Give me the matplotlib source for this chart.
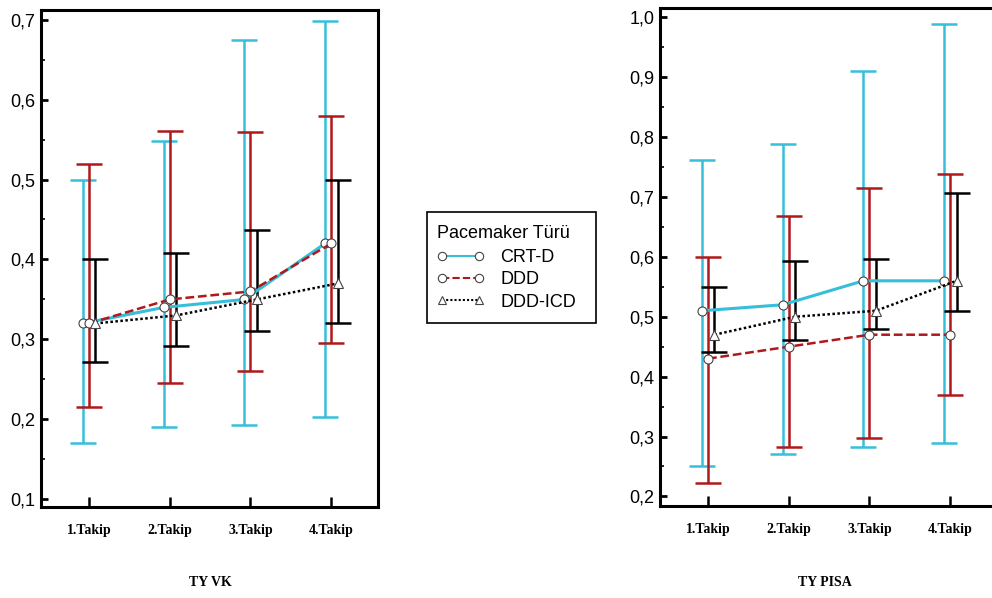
import numpy as np
import matplotlib
matplotlib.use("Agg")
import matplotlib.pyplot as plt
from matplotlib.ticker import MultipleLocator, FuncFormatter
from matplotlib.lines import Line2D
from matplotlib.patches import Rectangle

# follow-up visits
visits = ["1.Takip", "2.Takip", "3.Takip", "4.Takip"]
groups = ["CRT-D", "DDD", "DDD-ICD"]

# TY VK: means, lower and upper error bar ends
vk_mean = {
    "CRT-D": [0.32, 0.34, 0.35, 0.42],
    "DDD": [0.32, 0.35, 0.36, 0.42],
    "DDD-ICD": [0.32, 0.33, 0.35, 0.37],
}
vk_low = {
    "CRT-D": [0.171, 0.191, 0.193, 0.203],
    "DDD": [0.216, 0.246, 0.260, 0.296],
    "DDD-ICD": [0.272, 0.292, 0.310, 0.321],
}
vk_high = {
    "CRT-D": [0.499, 0.548, 0.674, 0.698],
    "DDD": [0.520, 0.561, 0.559, 0.579],
    "DDD-ICD": [0.400, 0.408, 0.437, 0.500],
}

# TY PISA
pisa_mean = {
    "CRT-D": [0.51, 0.52, 0.56, 0.56],
    "DDD": [0.43, 0.45, 0.47, 0.47],
    "DDD-ICD": [0.47, 0.50, 0.51, 0.56],
}
pisa_low = {
    "CRT-D": [0.250, 0.270, 0.282, 0.289],
    "DDD": [0.223, 0.283, 0.297, 0.369],
    "DDD-ICD": [0.441, 0.461, 0.479, 0.509],
}
pisa_high = {
    "CRT-D": [0.761, 0.789, 0.910, 0.988],
    "DDD": [0.600, 0.668, 0.715, 0.739],
    "DDD-ICD": [0.549, 0.593, 0.597, 0.706],
}

colors = {"CRT-D": "#36bedb", "DDD": "#b0191c", "DDD-ICD": "#000000"}
styles = {"CRT-D": "-", "DDD": (0, (3.5, 1.5)), "DDD-ICD": (0, (1, 1))}
markers = {"CRT-D": "o", "DDD": "o", "DDD-ICD": "^"}
offsets = {"CRT-D": -0.075, "DDD": 0.0, "DDD-ICD": 0.08}
line_w = {"CRT-D": 2.2, "DDD": 1.8, "DDD-ICD": 1.8}

fig = plt.figure(figsize=(9.92, 5.98), dpi=100)
ax1 = fig.add_axes([41 / 992, 91 / 598, 337 / 992, 497 / 598])
ax2 = fig.add_axes([660 / 992, 92 / 598, 337 / 992, 498 / 598])


def draw_panel(ax, mean, low, high, ylim):
    x = np.arange(1, len(visits) + 1)
    for g in groups:
        xs = x + offsets[g]
        m = np.array(mean[g])
        err = [m - np.array(low[g]), np.array(high[g]) - m]
        ax.errorbar(xs, m, yerr=err, fmt="none", ecolor=colors[g],
                    elinewidth=1.8, capsize=9.5, capthick=1.8, zorder=2)
    for g in groups:
        xs = x + offsets[g]
        ax.plot(xs, mean[g], linestyle=styles[g], color=colors[g],
                linewidth=line_w[g], marker=markers[g], markersize=6.5,
                markerfacecolor="white", markeredgecolor="#444444",
                markeredgewidth=0.8, zorder=3)
    ax.set_xlim(0.405, 4.58)
    ax.set_ylim(*ylim)
    ax.set_xticks(x)
    ax.set_xticklabels(visits, fontfamily="Liberation Serif",
                       fontweight="bold", fontsize=10)
    ax.yaxis.set_major_locator(MultipleLocator(0.1))
    ax.yaxis.set_minor_locator(MultipleLocator(0.05))
    ax.yaxis.set_major_formatter(FuncFormatter(lambda v, p: f"{v:.1f}".replace(".", ",")))
    for lab in ax.get_yticklabels():
        lab.set_fontfamily("Liberation Sans")
        lab.set_fontsize(13)
    ax.tick_params(axis="y", which="major", direction="in", length=5, width=2, pad=4)
    ax.tick_params(axis="y", which="minor", direction="in", length=3, width=1.2)
    ax.tick_params(axis="x", direction="in", length=7, width=1.8, pad=12)
    ax.tick_params(axis="x", which="minor", bottom=False)
    for sp in ax.spines.values():
        sp.set_linewidth(2.2)


draw_panel(ax1, vk_mean, vk_low, vk_high, (0.0904, 0.712))
draw_panel(ax2, pisa_mean, pisa_low, pisa_high, (0.184, 1.0155))

fig.text(210 / 992, 1 - 583 / 598, "TY VK", ha="center", va="center",
         fontfamily="Liberation Serif", fontweight="bold", fontsize=10)
fig.text(825 / 992, 1 - 583 / 598, "TY PISA", ha="center", va="center",
         fontfamily="Liberation Serif", fontweight="bold", fontsize=10)

# legend box drawn separately (wide right margin as in the original)
fig.patches.append(Rectangle((427 / 992, 1 - 323 / 598), 169 / 992, 111 / 598,
                             transform=fig.transFigure, fill=False,
                             edgecolor="black", linewidth=1.2))

handles = [
    Line2D([], [], linestyle=styles[g], color=colors[g], linewidth=1.5,
           marker=markers[g], markersize=6, markerfacecolor="white",
           markeredgecolor="#444444", markeredgewidth=0.8)
    for g in groups
]
leg = fig.legend(handles, groups, title="Pacemaker Türü", loc="upper left",
                 bbox_to_anchor=(437 / 992, 1 - 225 / 598), numpoints=2,
                 handlelength=2.6, handletextpad=0.9, frameon=False,
                 borderpad=0, borderaxespad=0, labelspacing=0.3,
                 alignment="left",
                 prop={"family": "Liberation Sans", "size": 13},
                 title_fontproperties={"family": "Liberation Sans", "size": 13})
leg._legend_box.sep = 5

fig.savefig("out.png", dpi=100)
